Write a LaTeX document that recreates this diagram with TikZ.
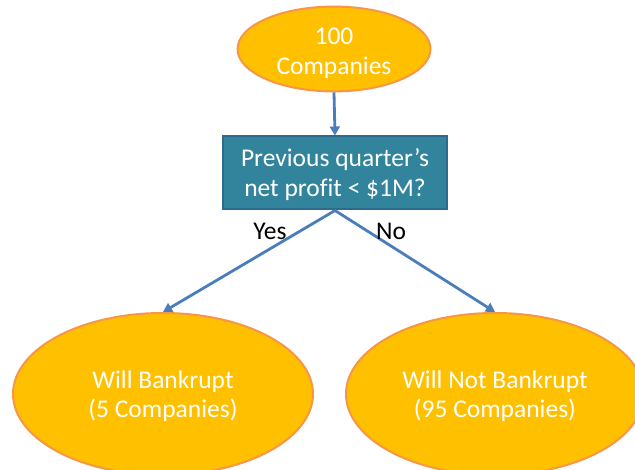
\documentclass[tikz,border=0pt]{standalone}
\usepackage{fontspec}
\setmainfont{Carlito}[Ligatures=NoCommon]
\usetikzlibrary{shapes.geometric,arrows.meta}
\definecolor{ellfill}{HTML}{FFC000}
\definecolor{ellline}{HTML}{F79646}
\definecolor{boxfill}{HTML}{31849B}
\definecolor{boxline}{HTML}{2D6A8C}
\definecolor{arrowc}{HTML}{4A7EBB}
\newcommand{\lowered}[2]{\raisebox{-#1}[\height][\depth]{\begin{tabular}{@{}c@{}}#2\end{tabular}}}
\tikzset{
  txt/.style={font=\fontsize{25.5}{30}\selectfont, align=center},
  oval/.style={ellipse, draw=ellline, fill=ellfill, line width=2pt, inner sep=0pt, text=white, txt},
  qbox/.style={rectangle, draw=boxline, fill=boxfill, line width=2pt, inner sep=0pt, text=white, txt},
  conn/.style={draw=arrowc, line width=2.8pt, -{Triangle[length=9pt,width=10pt]}},
  lbl/.style={txt, text=black}
}
\begin{document}
\begin{tikzpicture}[x=1pt,y=-1pt]
\useasboundingbox (0,0) rectangle (635,470);
\clip (0,0) rectangle (635,470);
\fill[white] (0,0) rectangle (635,470);
\node[oval, minimum width=193pt, minimum height=81pt] (top) at (334,49) {\lowered{5pt}{100\\Companies}};
\node[qbox, minimum width=224pt, minimum height=73pt] (q) at (335,173) {\lowered{3pt}{Previous quarter’s\\net profit < \$1M?}};
\node[oval, minimum width=300pt, minimum height=162pt] (L) at (163,394) {\lowered{3pt}{Will Bankrupt\\(5 Companies)}};
\node[oval, minimum width=298pt, minimum height=162pt] (R) at (495,394) {\lowered{3pt}{Will Not Bankrupt\\(95 Companies)}};
\draw[conn] (top.south) -- (q.north);
\draw[conn] (q.south) -- (L.north);
\draw[conn] (q.south) -- (R.north);
\node[lbl] (yes) at (270,231) {Yes};
\node[lbl] (no) at (391,231) {No};
\end{tikzpicture}
\end{document}
